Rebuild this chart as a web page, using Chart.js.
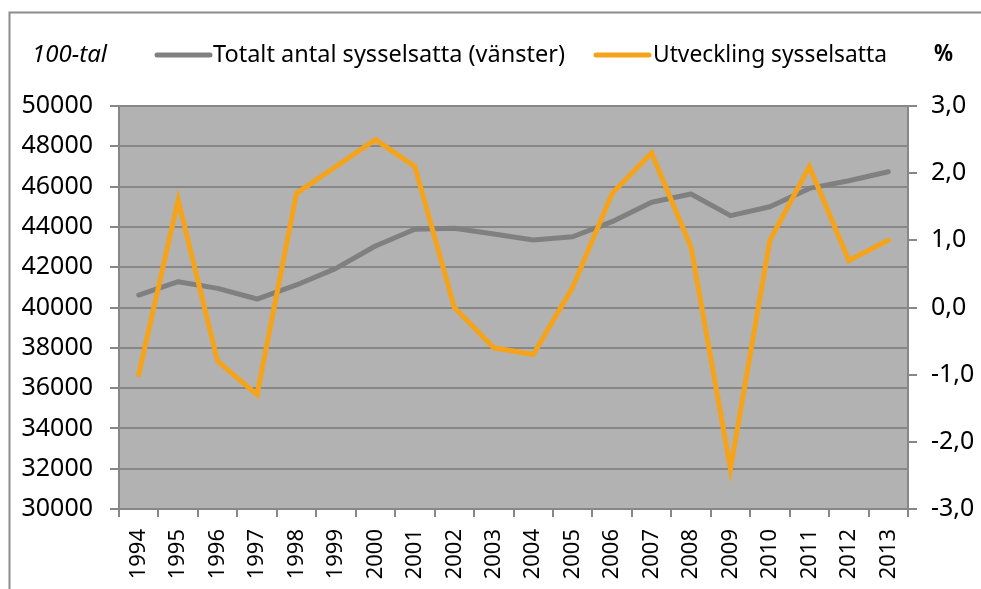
<!DOCTYPE html>
<html><head><meta charset="utf-8">
<script src="https://cdn.jsdelivr.net/npm/chart.js@4"></script>
<style>html,body{margin:0;padding:0;background:#fff}#wrap{width:981px;height:589px;position:relative}</style>
</head><body><div id="wrap"><canvas id="c" width="981" height="589"></canvas></div>
<script>
const years = ['1994','1995','1996','1997','1998','1999','2000','2001','2002','2003','2004','2005','2006','2007','2008','2009','2010','2011','2012','2013'];
const totalEmployed = [40620,41280,40950,40420,41120,41940,43050,43880,43930,43650,43350,43510,44260,45220,45630,44560,45000,45910,46290,46740];
const changePct = [-1.0,1.6,-0.8,-1.3,1.7,2.1,2.5,2.1,0.0,-0.6,-0.7,0.3,1.7,2.3,0.9,-2.4,1.0,2.1,0.7,1.0];
const seriesNames = ['Totalt antal sysselsatta (vänster)','Utveckling sysselsatta'];
const leftUnit = '100-tal';
const rightUnit = '%';

const FONT = '"Noto Sans", sans-serif';
const GRID = '#878787';
const FS = 25;

const decor = {
  id:'decor',
  beforeDraw(chart){
    const {ctx, chartArea:a} = chart;
    ctx.save();
    ctx.fillStyle = '#b2b2b2';
    ctx.fillRect(a.left, a.top, a.right-a.left, a.bottom-a.top);
    ctx.restore();
  },
  afterDraw(chart){
    const ctx = chart.ctx;
    ctx.save();
    ctx.strokeStyle = '#8c8c8c'; ctx.lineWidth = 2;
    ctx.beginPath(); ctx.moveTo(9.5, 600); ctx.lineTo(9.5, 12.5); ctx.lineTo(990, 12.5); ctx.stroke();
    const y = 55;
    ctx.textBaseline = 'middle';
    ctx.fillStyle = '#000';
    ctx.font = 'italic 24px ' + FONT;
    ctx.fillText(leftUnit, 32, y, 86);
    ctx.lineCap = 'round'; ctx.lineWidth = 5;
    ctx.strokeStyle = '#808080';
    ctx.beginPath(); ctx.moveTo(157, y); ctx.lineTo(210, y); ctx.stroke();
    ctx.font = '24px ' + FONT;
    ctx.fillText(seriesNames[0], 213, y, 352);
    ctx.strokeStyle = '#f5a31a';
    ctx.beginPath(); ctx.moveTo(596, y); ctx.lineTo(649, y); ctx.stroke();
    ctx.fillText(seriesNames[1], 653, y, 234);
    ctx.font = 'bold 23px ' + FONT;
    ctx.fillText(rightUnit, 934, y-1, 19);
    ctx.restore();
  }
};

new Chart(document.getElementById('c'), {
  type:'line',
  data:{
    labels: years,
    datasets:[
      {label:seriesNames[0], data:totalEmployed, yAxisID:'y', borderColor:'#808080', borderWidth:5, pointRadius:0, tension:0, borderCapStyle:'round', borderJoinStyle:'round', order:2},
      {label:seriesNames[1], data:changePct, yAxisID:'y2', borderColor:'#f5a31a', borderWidth:5, pointRadius:0, tension:0, borderCapStyle:'round', borderJoinStyle:'miter', order:1}
    ]
  },
  options:{
    responsive:false, animation:false, devicePixelRatio:1,
    layout:{padding:{top:106,left:0,right:0,bottom:0}},
    plugins:{legend:{display:false}, tooltip:{enabled:false}},
    scales:{
      x:{
        offset:true,
        grid:{offset:true, drawOnChartArea:false, color:GRID, lineWidth:2, tickLength:8},
        border:{color:GRID, width:2},
        ticks:{minRotation:90, maxRotation:90, autoSkip:false, color:'#000', font:{family:FONT, size:22}, padding:12},
        afterFit(s){ s.height = 80; }
      },
      y:{
        position:'left', min:30000, max:50000,
        grid:{color:GRID, lineWidth:2, tickLength:9},
        border:{color:GRID, width:2},
        ticks:{stepSize:2000, color:'#000', font:{family:FONT, size:FS}, padding:17, callback:v=>String(v)},
        afterFit(s){ s.width = 119; }
      },
      y2:{
        position:'right', min:-3, max:3,
        grid:{drawOnChartArea:false, color:GRID, lineWidth:2, tickLength:9},
        border:{color:GRID, width:2},
        ticks:{stepSize:1, color:'#000', font:{family:FONT, size:FS}, padding:14, callback:v=>v.toFixed(1).replace('.',',')},
        afterFit(s){ s.width = 73; }
      }
    }
  },
  plugins:[decor]
});
</script></body></html>
